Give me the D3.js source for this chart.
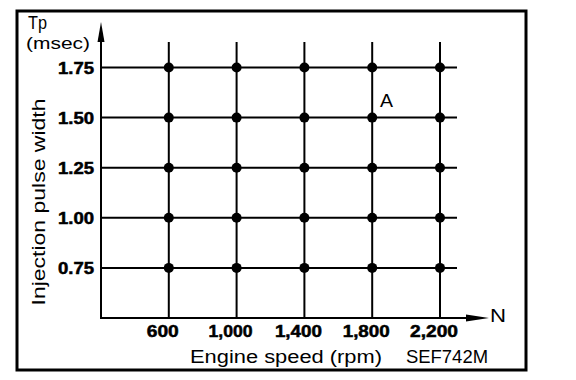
<!DOCTYPE html>
<html><head><meta charset="utf-8">
<script src="https://cdn.jsdelivr.net/npm/d3@7"></script>
<style>body{margin:0;background:#fff}svg{display:block}text{font-family:"Liberation Sans",Arial,sans-serif;fill:#000}</style>
</head><body><svg id="c" width="576" height="380"></svg>
<script>
const speeds = [600, 1000, 1400, 1800, 2200];
const speedLabels = ["600", "1,000", "1,400", "1,800", "2,200"];
const pulses = [0.75, 1.00, 1.25, 1.50, 1.75];
const pulseLabels = ["0.75", "1.00", "1.25", "1.50", "1.75"];
const points = [];
speeds.forEach(s => pulses.forEach(p => points.push({s, p})));

const svg = d3.select("#c");
const x = d3.scaleLinear().domain([200, 2200]).range([101, 440]);
const y = d3.scaleLinear().domain([0.5, 1.75]).range([318, 67.5]);

// frame
svg.append("rect").attr("x",17).attr("y",11).attr("width",509).attr("height",359)
  .attr("fill","none").attr("stroke","#000").attr("stroke-width",3);

// grid
svg.selectAll(".vg").data(speeds).join("line")
  .attr("x1",d=>x(d)).attr("x2",d=>x(d)).attr("y1",42).attr("y2",318)
  .attr("stroke","#000").attr("stroke-width",2);
svg.selectAll(".hg").data(pulses).join("line")
  .attr("x1",101).attr("x2",457).attr("y1",d=>y(d)).attr("y2",d=>y(d))
  .attr("stroke","#000").attr("stroke-width",2);

// axes
svg.append("line").attr("x1",101).attr("x2",101).attr("y1",30).attr("y2",319).attr("stroke","#000").attr("stroke-width",2);
svg.append("path").attr("d","M101,22 L97.5,42 L104.5,42 Z").attr("fill","#000");
svg.append("line").attr("x1",100).attr("x2",476).attr("y1",318).attr("y2",318).attr("stroke","#000").attr("stroke-width",2);
svg.append("path").attr("d","M489,318 L466,314.5 L466,321.5 Z").attr("fill","#000");

// tick labels
const xW = [32, 44, 47, 47, 48];
svg.selectAll(".yl").data(pulses).join("text")
  .attr("x",94).attr("y",d=>y(d)+6).attr("text-anchor","end")
  .attr("font-size",16).attr("font-weight","bold")
  .attr("stroke","#000").attr("stroke-width",0.5)
  .attr("textLength",36).attr("lengthAdjust","spacingAndGlyphs")
  .text((d,i)=>pulseLabels[i]);
svg.selectAll(".xl").data(speeds).join("text")
  .attr("x",d=>x(d)-6).attr("y",337).attr("text-anchor","middle")
  .attr("font-size",16).attr("font-weight","bold")
  .attr("stroke","#000").attr("stroke-width",0.5)
  .attr("textLength",(d,i)=>xW[i]).attr("lengthAdjust","spacingAndGlyphs")
  .text((d,i)=>speedLabels[i]);

// points
svg.selectAll(".pt").data(points).join("circle")
  .attr("cx",d=>x(d.s)).attr("cy",d=>y(d.p)).attr("r",5).attr("fill","#000");

// titles
function t(str, xx, yy, fs, w) {
  const e = svg.append("text").attr("x",xx).attr("y",yy).attr("font-size",fs).text(str);
  if (w) e.attr("textLength",w).attr("lengthAdjust","spacingAndGlyphs");
  return e;
}
t("Tp", 28, 29, 18, 19);
t("(msec)", 26, 49, 17, 64);
svg.append("text").attr("transform","translate(45,202) rotate(-90)").attr("text-anchor","middle")
  .attr("font-size",18).attr("textLength",207).attr("lengthAdjust","spacingAndGlyphs")
  .text("Injection pulse width");
t("Engine speed (rpm)", 190, 363, 17.5, 192);
t("SEF742M", 406, 363, 17.5, 82);
t("N", 490, 322, 18, 16);
t("A", 380, 107, 18, 13);
</script></body></html>
